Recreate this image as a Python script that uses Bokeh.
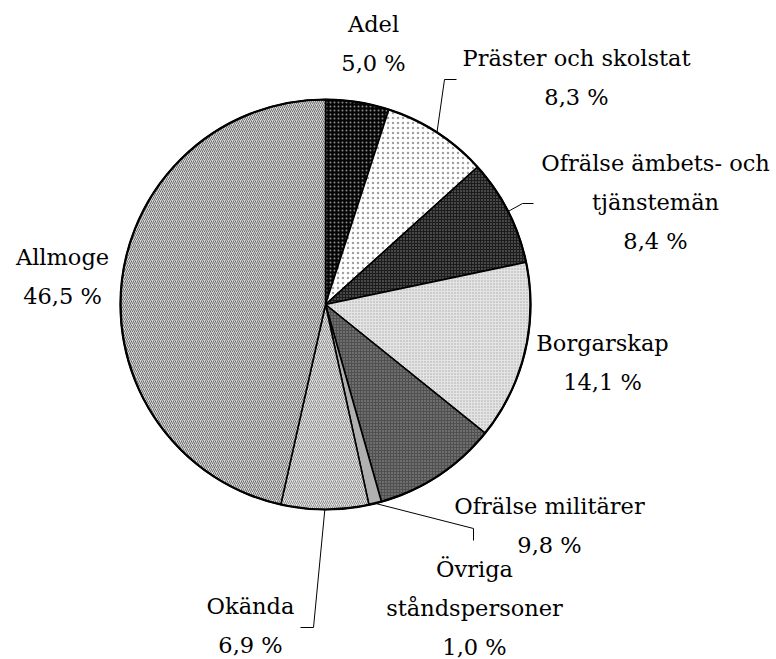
import math
from bokeh.plotting import figure
from bokeh.models import ColumnDataSource, Range1d
from bokeh.core.properties import value
from bokeh.embed import file_html
from bokeh.resources import INLINE

# ---- data ----
categories = ["Adel", "Präster och skolstat", "Ofrälse ämbets- och tjänstemän",
              "Borgarskap", "Ofrälse militärer", "Övriga ståndspersoner",
              "Okända", "Allmoge"]
label_lines = [["Adel"], ["Präster och skolstat"], ["Ofrälse ämbets- och", "tjänstemän"],
               ["Borgarskap"], ["Ofrälse militärer"], ["Övriga", "ståndspersoner"],
               ["Okända"], ["Allmoge"]]
shares = [5.0, 8.3, 8.4, 14.1, 9.8, 1.0, 6.9, 46.5]

# ---- styles ----
fills = ["#050505", "#ffffff", "#1c1c1c", "#e4e4e4", "#505050", "#b0b0b0", "#e4e4e4", "#d8d8d8"]
hatches = ["dot", "dot", "dot", "dot", "dot", " ", "right_diagonal_line", "right_diagonal_line"]
hatch_colors = ["#8a8a8a", "#a0a0a0", "#8a8a8a", "#a8a8a8", "#9a9a9a", "#b0b0b0", "#8c8c8c", "#6e6e6e"]
hatch_scales = [4, 5, 3, 3, 3, 3, 4, 4]

W, H = 776, 659
def px(X):
    return X
def py(Y):
    return H - Y

CX, CY, R = px(325), py(304), 205

total = sum(shares)
starts, ends, mids = [], [], []
cum = 0.0
for v in shares:
    a0 = math.pi / 2 - 2 * math.pi * cum / total
    cum += v
    a1 = math.pi / 2 - 2 * math.pi * cum / total
    starts.append(a0)
    ends.append(a1)
    mids.append((a0 + a1) / 2)

src = ColumnDataSource(dict(
    start=starts, end=ends, fill=fills, hatch=hatches,
    hcol=hatch_colors, hscale=hatch_scales, cat=categories))

p = figure(width=W, height=H, x_range=Range1d(0, W), y_range=Range1d(0, H),
           output_backend="svg", toolbar_location=None, min_border=0)
p.axis.visible = False
p.grid.visible = False
p.outline_line_color = None
p.background_fill_color = "white"

p.wedge(x=CX, y=CY, radius=R, start_angle="start", end_angle="end", direction="clock",
        fill_color="fill", hatch_pattern="hatch", hatch_color="hcol", hatch_scale="hscale",
        hatch_weight=1, line_color="black", line_width=1.6, source=src)
# outer rim
p.circle(x=[CX], y=[CY], radius=R, fill_color=None, line_color="black", line_width=2.2)

# ---- labels (center x, first baseline, in page pixels) ----
label_pos = [(373, 33), (576, 67), (655, 172), (602, 352), (549, 515),
             (474, 578), (250, 615), (62, 266)]
line_gap = 39.3
baseline_fix = 10  # renderer places text ~10px below requested baseline
tx, ty, tt = [], [], []
for lines, v, (X, Y) in zip(label_lines, shares, label_pos):
    pct = f"{v:.1f}".replace(".", ",") + " %"
    for i, t in enumerate(lines + [pct]):
        tx.append(px(X))
        ty.append(py(Y + i * line_gap - baseline_fix))
        tt.append(t)
p.text(x=tx, y=ty, text=tt, text_align="center", text_baseline="alphabetic",
       text_font=value("DejaVu Serif"), text_font_size="22.5px", text_color="black")

# ---- leader lines: from slice mid on rim to elbow, then to end ----
leaders = {1: [(444, 79), (456, 79)],
           2: [(522, 203), (533, 203)],
           5: [(473, 528), (473, 540)],
           6: [(313, 627), (300, 627)]}
lx, ly = [], []
for i, pts in leaders.items():
    sx = CX + R * math.cos(mids[i])
    sy = CY + R * math.sin(mids[i])
    lx.append([sx] + [px(a) for a, b in pts])
    ly.append([sy] + [py(b) for a, b in pts])
p.multi_line(xs=lx, ys=ly, line_color="black", line_width=1)

open("out.html", "w").write(file_html(p, INLINE))
